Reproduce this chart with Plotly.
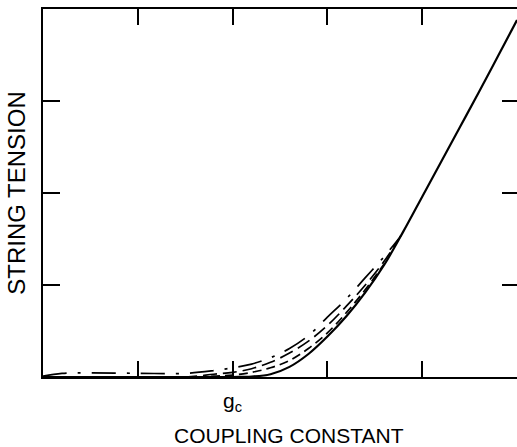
import plotly.graph_objects as go

# --- data ---
x_solid = [0.0, 1.0, 2.0, 2.2, 2.4, 2.6, 2.8, 3.0, 3.2, 3.4, 3.6, 3.8, 4.0, 4.2, 4.4, 4.6, 4.8, 5.0]
y_solid = [0.0, 0.0, 0.0, 0.005, 0.03, 0.11, 0.25, 0.44, 0.66, 0.92, 1.22, 1.58, 1.96, 2.34, 2.72, 3.10, 3.49, 3.88]

x_short = [0.0, 1.6, 1.8, 2.0, 2.2, 2.4, 2.6, 2.8, 3.0, 3.2, 3.4, 3.6]
y_short = [0.0, 0.0, 0.01, 0.02, 0.05, 0.10, 0.18, 0.31, 0.48, 0.70, 0.95, 1.23]

x_medium = [0.0, 1.5, 1.8, 2.0, 2.2, 2.4, 2.6, 2.8, 3.0, 3.2, 3.4, 3.6, 3.8]
y_medium = [0.0, 0.0, 0.03, 0.05, 0.09, 0.16, 0.26, 0.39, 0.56, 0.77, 1.00, 1.26, 1.58]

x_dashdot = [0.0, 0.2, 0.5, 1.0, 1.5, 1.8, 2.0, 2.2, 2.4, 2.6, 2.8, 3.0, 3.2, 3.4, 3.6, 3.75]
y_dashdot = [0.01, 0.04, 0.045, 0.04, 0.04, 0.07, 0.10, 0.14, 0.21, 0.31, 0.45, 0.65, 0.85, 1.08, 1.31, 1.50]

x_tickvals = [1, 2, 3, 4]
gc_tickvals = [2]
gc_ticktext = ["g<sub>c</sub>"]
y_tickvals = [1, 2, 3]

x_title = "COUPLING CONSTANT"
y_title = "STRING TENSION"

FONT = "Liberation Sans, Arial, sans-serif"

fig = go.Figure()
fig.add_trace(go.Scatter(x=x_solid, y=y_solid, mode="lines",
                         line=dict(color="black", width=2.2, shape="spline", smoothing=1.0)))
fig.add_trace(go.Scatter(x=x_short, y=y_short, mode="lines",
                         line=dict(color="black", width=1.7, shape="spline", smoothing=1.0, dash="9px,5px")))
fig.add_trace(go.Scatter(x=x_medium, y=y_medium, mode="lines",
                         line=dict(color="black", width=1.7, shape="spline", smoothing=1.0, dash="14px,6px")))
fig.add_trace(go.Scatter(x=x_dashdot, y=y_dashdot, mode="lines",
                         line=dict(color="black", width=1.7, shape="spline", smoothing=1.0,
                                   dash="24px,11px,3px,11px")))
# invisible trace to carry the extra axes (right ticks, g_c label)
fig.add_trace(go.Scatter(x=[0, 5], y=[0, 4], mode="markers", xaxis="x2", yaxis="y2",
                         marker=dict(opacity=0), hoverinfo="skip"))

fig.update_layout(
    width=517, height=447,
    margin=dict(l=43, r=0, t=9, b=70),
    paper_bgcolor="white", plot_bgcolor="white",
    showlegend=False,
    font=dict(family=FONT, color="black"),
    xaxis=dict(range=[0, 5], tickvals=x_tickvals, showticklabels=False, automargin=False,
               ticks="inside", ticklen=16, tickwidth=1.5, tickcolor="black",
               showline=True, linecolor="black", linewidth=2, mirror="ticks",
               showgrid=False, zeroline=False),
    xaxis2=dict(range=[0, 5], overlaying="x", side="bottom", tickvals=gc_tickvals,
                ticktext=gc_ticktext, ticks="", automargin=False, showline=False,
                showgrid=False, zeroline=False, ticklabelstandoff=9,
                tickfont=dict(size=21, family=FONT)),
    yaxis=dict(range=[0, 4], tickvals=y_tickvals, showticklabels=False, automargin=False,
               ticks="inside", ticklen=17, tickwidth=1.5, tickcolor="black",
               showline=True, linecolor="black", linewidth=2, mirror=False,
               showgrid=False, zeroline=False,
               title=dict(text=y_title, font=dict(size=24, family=FONT), standoff=9)),
    yaxis2=dict(range=[0, 4], overlaying="y", side="right", tickvals=y_tickvals, automargin=False,
                showticklabels=False, ticks="inside", ticklen=15, tickwidth=1.5,
                tickcolor="black", showline=False, showgrid=False, zeroline=False),
    annotations=[dict(text=x_title, xref="x", yref="paper", x=2.6, y=0, yshift=-58,
                      xanchor="center", yanchor="middle", showarrow=False,
                      font=dict(size=21, family=FONT))],
)

fig.write_html("out.html", config={"displayModeBar": False},
               post_script="document.body.style.margin='0';document.documentElement.style.overflow='hidden';")
